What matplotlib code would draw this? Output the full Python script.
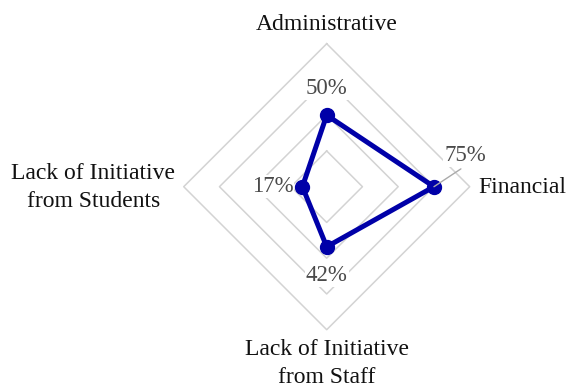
import numpy as np
import matplotlib.pyplot as plt

plt.rcParams['font.family'] = ['Liberation Serif', 'DejaVu Serif']

categories = ["Administrative", "Financial", "Lack of Initiative\nfrom Staff",
              "Lack of Initiative\nfrom Students"]
values = [0.50, 0.75, 0.42, 0.17]
value_labels = ["50%", "75%", "42%", "17%"]
grid_levels = [0.25, 0.50, 0.75, 1.0]

# clockwise from the top
angles = np.arange(len(categories)) * 2 * np.pi / len(categories)


def to_xy(r, a):
    return r * np.sin(a), r * np.cos(a)


fig = plt.figure(figsize=(5.66, 3.87), dpi=100)
ax = fig.add_axes([0, 0, 1, 1])
# 1.0 on the value scale = 143 px, center at (326.7, 186.7) px from top-left
scale = 143.0
cx, cy = 326.7, 186.7
ax.set_xlim(-cx / scale, (566 - cx) / scale)
ax.set_ylim(-(387 - cy) / scale, cy / scale)
ax.axis('off')

# diamond grid
for lvl in grid_levels:
    gx, gy = to_xy(np.full(len(angles) + 1, lvl), np.append(angles, angles[0]))
    ax.plot(gx, gy, color='#d3d3d3', lw=1.1, zorder=1)

# data polygon
px, py = to_xy(np.array(values), angles)
ax.plot(np.append(px, px[0]), np.append(py, py[0]), color='#0000a8', lw=3.6,
        solid_joinstyle='round', zorder=2)
ax.plot(px, py, 'o', color='#0000a8', ms=10, zorder=2)

# value labels
offsets = [(0, 27), (31, 31), (0, -29), (-30, 0)]
box = dict(boxstyle='square,pad=0.05', fc='white', ec='none')
for x, y, lab, off in zip(px, py, value_labels, offsets):
    kw = {}
    if lab == "75%":
        kw['arrowprops'] = dict(arrowstyle='-', color='#aaaaaa', lw=1.0,
                                shrinkA=2, shrinkB=0, relpos=(0.5, 0))
    ax.annotate(lab, (x, y), xytext=off, textcoords='offset pixels',
                ha='center', va='center', fontsize=16.5, color='#4a4a4a',
                bbox=box, zorder=3, **kw)

# category labels (baseline of the last line)
label_pos = [(0.0, 1.096, 'center'), (1.058, -0.046, 'left'),
             (0.0, -1.372, 'center'), (-1.632, -0.140, 'center')]
for cat, (lx, ly, ha) in zip(categories, label_pos):
    ax.text(lx, ly, cat, ha=ha, va='baseline', fontsize=17, color='#111111',
            linespacing=1.4, multialignment='center')

fig.savefig('out.png', dpi=100, facecolor='white')
